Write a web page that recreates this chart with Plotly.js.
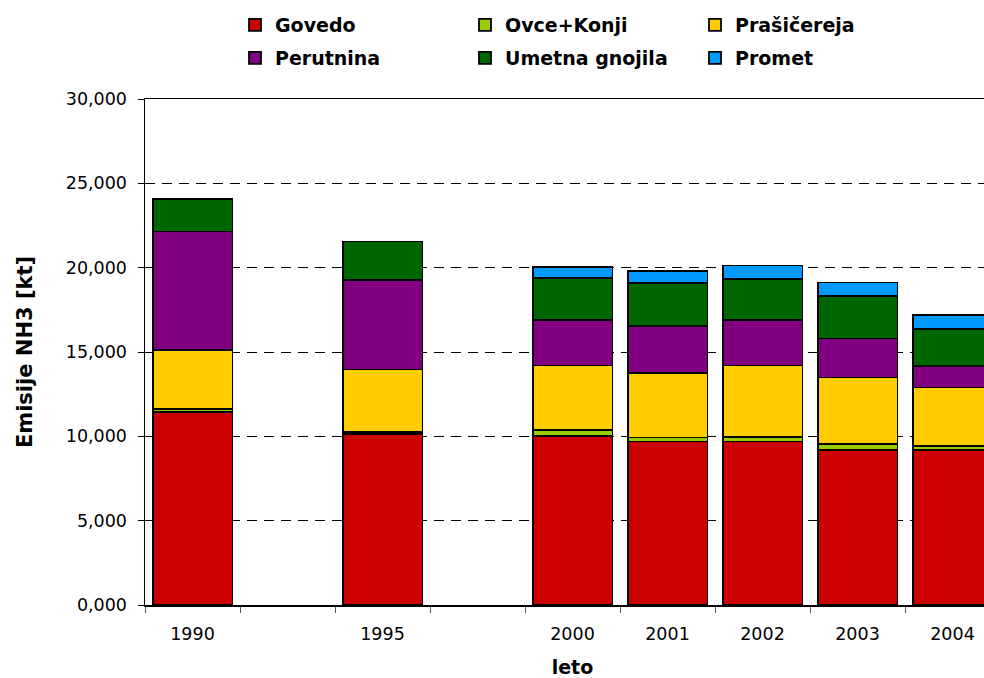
<!DOCTYPE html>
<html>
<head>
<meta charset="utf-8">
<script src="https://cdn.plot.ly/plotly-3.0.1.min.js"></script>
<style>
html, body { margin: 0; padding: 0; overflow: hidden; background: #fff; }
#chart { width: 1010px; height: 678px; }
</style>
</head>
<body>
<div id="chart"></div>
<script>
// Categories (blank slots are empty years in the original sheet)
const years = ["1990", " ", "1995", "  ", "2000", "2001", "2002", "2003", "2004"];

// Emissions NH3 [kt]
const govedo     = [11.45, null, 10.12, null, 10.03, 9.69, 9.69, 9.20, 9.20];
const ovceKonji  = [0.15,  null, 0.12,  null, 0.34,  0.24, 0.26, 0.34, 0.24];
const prasicereja= [3.51,  null, 3.72,  null, 3.83,  3.83, 4.25, 3.95, 3.46];
const perutnina  = [7.03,  null, 5.29,  null, 2.68,  2.78, 2.68, 2.31, 1.26];
const umetna     = [1.94,  null, 2.30,  null, 2.52,  2.54, 2.44, 2.53, 2.19];
const promet     = [null,  null, null,  null, 0.62,  0.70, 0.81, 0.79, 0.83];

const seriesNames = ["Govedo", "Ovce+Konji", "Prašičereja", "Perutnina", "Umetna gnojila", "Promet"];
const seriesData = [govedo, ovceKonji, prasicereja, perutnina, umetna, promet];
const seriesColors = ["#CC0000", "#99CC00", "#FFCC00", "#800080", "#006600", "#0099FF"];
const legendIds = ["legend", "legend", "legend", "legend2", "legend2", "legend2"];

const FONT = "'DejaVu Sans', Verdana, sans-serif";

const traces = seriesNames.map((n, i) => ({
  type: "bar",
  name: n,
  x: years,
  y: seriesData[i],
  legend: legendIds[i],
  marker: { color: seriesColors[i], line: { color: "#000", width: 1.8 } },
  hoverinfo: "x+y+name"
}));

const legendCommon = {
  orientation: "h",
  xref: "container",
  yref: "container",
  xanchor: "left",
  yanchor: "middle",
  entrywidth: 185,
  entrywidthmode: "pixels",
  font: { family: FONT, size: 19, color: "#000", weight: "bold" },
  bgcolor: "rgba(0,0,0,0)",
  traceorder: "normal",
  itemwidth: 30
};

const layout = {
  width: 1010,
  height: 678,
  margin: { l: 145, r: 10, t: 99, b: 73 },
  paper_bgcolor: "#fff",
  plot_bgcolor: "#fff",
  barmode: "stack",
  bargap: 0.16,
  separators: ", ",
  font: { family: FONT, size: 17.5, color: "#000" },
  showlegend: true,
  legend: Object.assign({}, legendCommon, { x: 235 / 1010, y: 1 - 25 / 678 }),
  legend2: Object.assign({}, legendCommon, { x: 235 / 1010, y: 1 - 58 / 678 }),
  xaxis: {
    type: "category",
    categoryorder: "array",
    categoryarray: years,
    showline: true,
    linecolor: "#000",
    linewidth: 1.5,
    mirror: true,
    ticks: "outside",
    tickson: "boundaries",
    ticklen: 6,
    tickcolor: "#555",
    tickfont: { family: FONT, size: 17.5, color: "#000" },
    ticklabelstandoff: 12,
    showgrid: false,
    title: { text: "leto", font: { family: FONT, size: 19, color: "#000", weight: "bold" }, standoff: 19 }
  },
  yaxis: {
    range: [0, 30],
    tickvals: [0, 5, 10, 15, 20, 25, 30],
    tickformat: ",.3f",
    showline: true,
    linecolor: "#000",
    linewidth: 1.5,
    mirror: true,
    ticks: "outside",
    ticklen: 6,
    tickcolor: "#000",
    tickfont: { family: FONT, size: 17.5, color: "#000" },
    ticklabelstandoff: 7,
    showgrid: true,
    gridcolor: "#000",
    gridwidth: 1,
    griddash: "10px,7px",
    zeroline: false,
    title: { text: "Emisije NH3 [kt]", font: { family: FONT, size: 21, color: "#000", weight: "bold" }, standoff: 27 }
  }
};

Plotly.newPlot("chart", traces, layout, { displayModeBar: false, staticPlot: true });
</script>
</body>
</html>
